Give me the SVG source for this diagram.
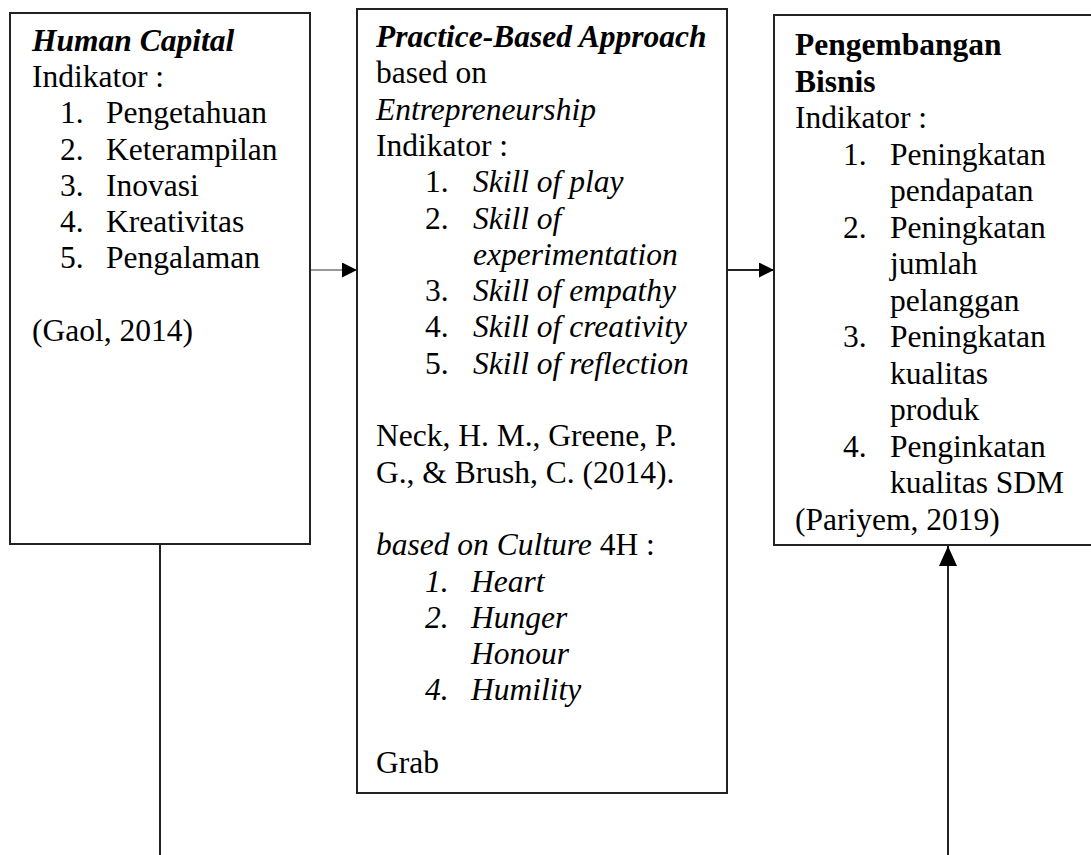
<svg xmlns="http://www.w3.org/2000/svg" width="1091" height="855" viewBox="0 0 1091 855">
<defs>
<style>
text{font-family:"Liberation Serif","Times New Roman",serif;font-size:31.5px;fill:#000}
.i{font-style:italic}
.b{font-weight:bold}
.box{fill:#fff;stroke:#222;stroke-width:2}
.ln{stroke:#222;stroke-width:2;fill:none}
</style>
<marker id="ah" markerUnits="userSpaceOnUse" markerWidth="16" markerHeight="16" refX="15" refY="7.5" orient="auto">
<path d="M0,0 L15,7.5 L0,15 Z" fill="#000"/>
</marker>
<marker id="ahv" markerUnits="userSpaceOnUse" markerWidth="22" markerHeight="22" refX="20" refY="9" orient="auto">
<path d="M0,0 L20,9 L0,18 Z" fill="#000"/>
</marker>
</defs>
<rect width="1091" height="855" fill="#fff"/>
<g id="connectors">
<line x1="311" y1="270" x2="357" y2="270" stroke="#999" stroke-width="2" marker-end="url(#ah)"/>
<line x1="728" y1="270" x2="774" y2="270" class="ln" marker-end="url(#ah)"/>
<line x1="160" y1="545" x2="160" y2="860" class="ln"/>
<line x1="948" y1="860" x2="948" y2="546" class="ln" marker-end="url(#ahv)"/>
</g>
<g id="human-capital">
<rect x="10" y="13" width="300" height="531" class="box"/>
<text x="32" y="51" class="i b">Human Capital</text>
<text x="32" y="87.2">Indikator :</text>
<text x="60" y="123.4">1.</text><text x="106" y="123.4">Pengetahuan</text>
<text x="60" y="159.6">2.</text><text x="106" y="159.6">Keterampilan</text>
<text x="60" y="195.8">3.</text><text x="106" y="195.8">Inovasi</text>
<text x="60" y="232">4.</text><text x="106" y="232">Kreativitas</text>
<text x="60" y="268.2">5.</text><text x="106" y="268.2">Pengalaman</text>
<text x="32" y="340.6">(Gaol, 2014)</text>
</g>
<g id="practice-based">
<rect x="357" y="9" width="370" height="784" class="box"/>
<text x="376" y="47" class="i b">Practice-Based Approach</text>
<text x="376" y="83.3">based on</text>
<text x="376" y="119.6" class="i">Entrepreneurship</text>
<text x="376" y="155.9">Indikator :</text>
<text x="425" y="192.2">1.</text><text x="473" y="192.2" class="i">Skill of play</text>
<text x="425" y="228.5">2.</text><text x="473" y="228.5" class="i">Skill of</text>
<text x="473" y="264.8" class="i">experimentation</text>
<text x="425" y="301.1">3.</text><text x="473" y="301.1" class="i">Skill of empathy</text>
<text x="425" y="337.4">4.</text><text x="473" y="337.4" class="i">Skill of creativity</text>
<text x="425" y="373.7">5.</text><text x="473" y="373.7" class="i">Skill of reflection</text>
<text x="376" y="446.3">Neck, H. M., Greene, P.</text>
<text x="376" y="482.6">G., &amp; Brush, C. (2014).</text>
<text x="376" y="555.2"><tspan class="i">based on Culture</tspan> 4H :</text>
<text x="425" y="591.5" class="i">1.</text><text x="471" y="591.5" class="i">Heart</text>
<text x="425" y="627.8" class="i">2.</text><text x="471" y="627.8" class="i">Hunger</text>
<text x="471" y="664.1" class="i">Honour</text>
<text x="425" y="700.4" class="i">4.</text><text x="471" y="700.4" class="i">Humility</text>
<text x="376" y="773">Grab</text>
</g>
<g id="pengembangan-bisnis">
<rect x="774" y="15" width="330" height="530" class="box"/>
<text x="795" y="55" class="b">Pengembangan</text>
<text x="795" y="91.5" class="b">Bisnis</text>
<text x="795" y="128">Indikator :</text>
<text x="843" y="164.5">1.</text><text x="890" y="164.5">Peningkatan</text>
<text x="890" y="201">pendapatan</text>
<text x="843" y="237.5">2.</text><text x="890" y="237.5">Peningkatan</text>
<text x="890" y="274">jumlah</text>
<text x="890" y="310.5">pelanggan</text>
<text x="843" y="347">3.</text><text x="890" y="347">Peningkatan</text>
<text x="890" y="383.5">kualitas</text>
<text x="890" y="420">produk</text>
<text x="843" y="456.5">4.</text><text x="890" y="456.5">Penginkatan</text>
<text x="890" y="493">kualitas SDM</text>
<text x="795" y="529.5">(Pariyem, 2019)</text>
</g>
</svg>
